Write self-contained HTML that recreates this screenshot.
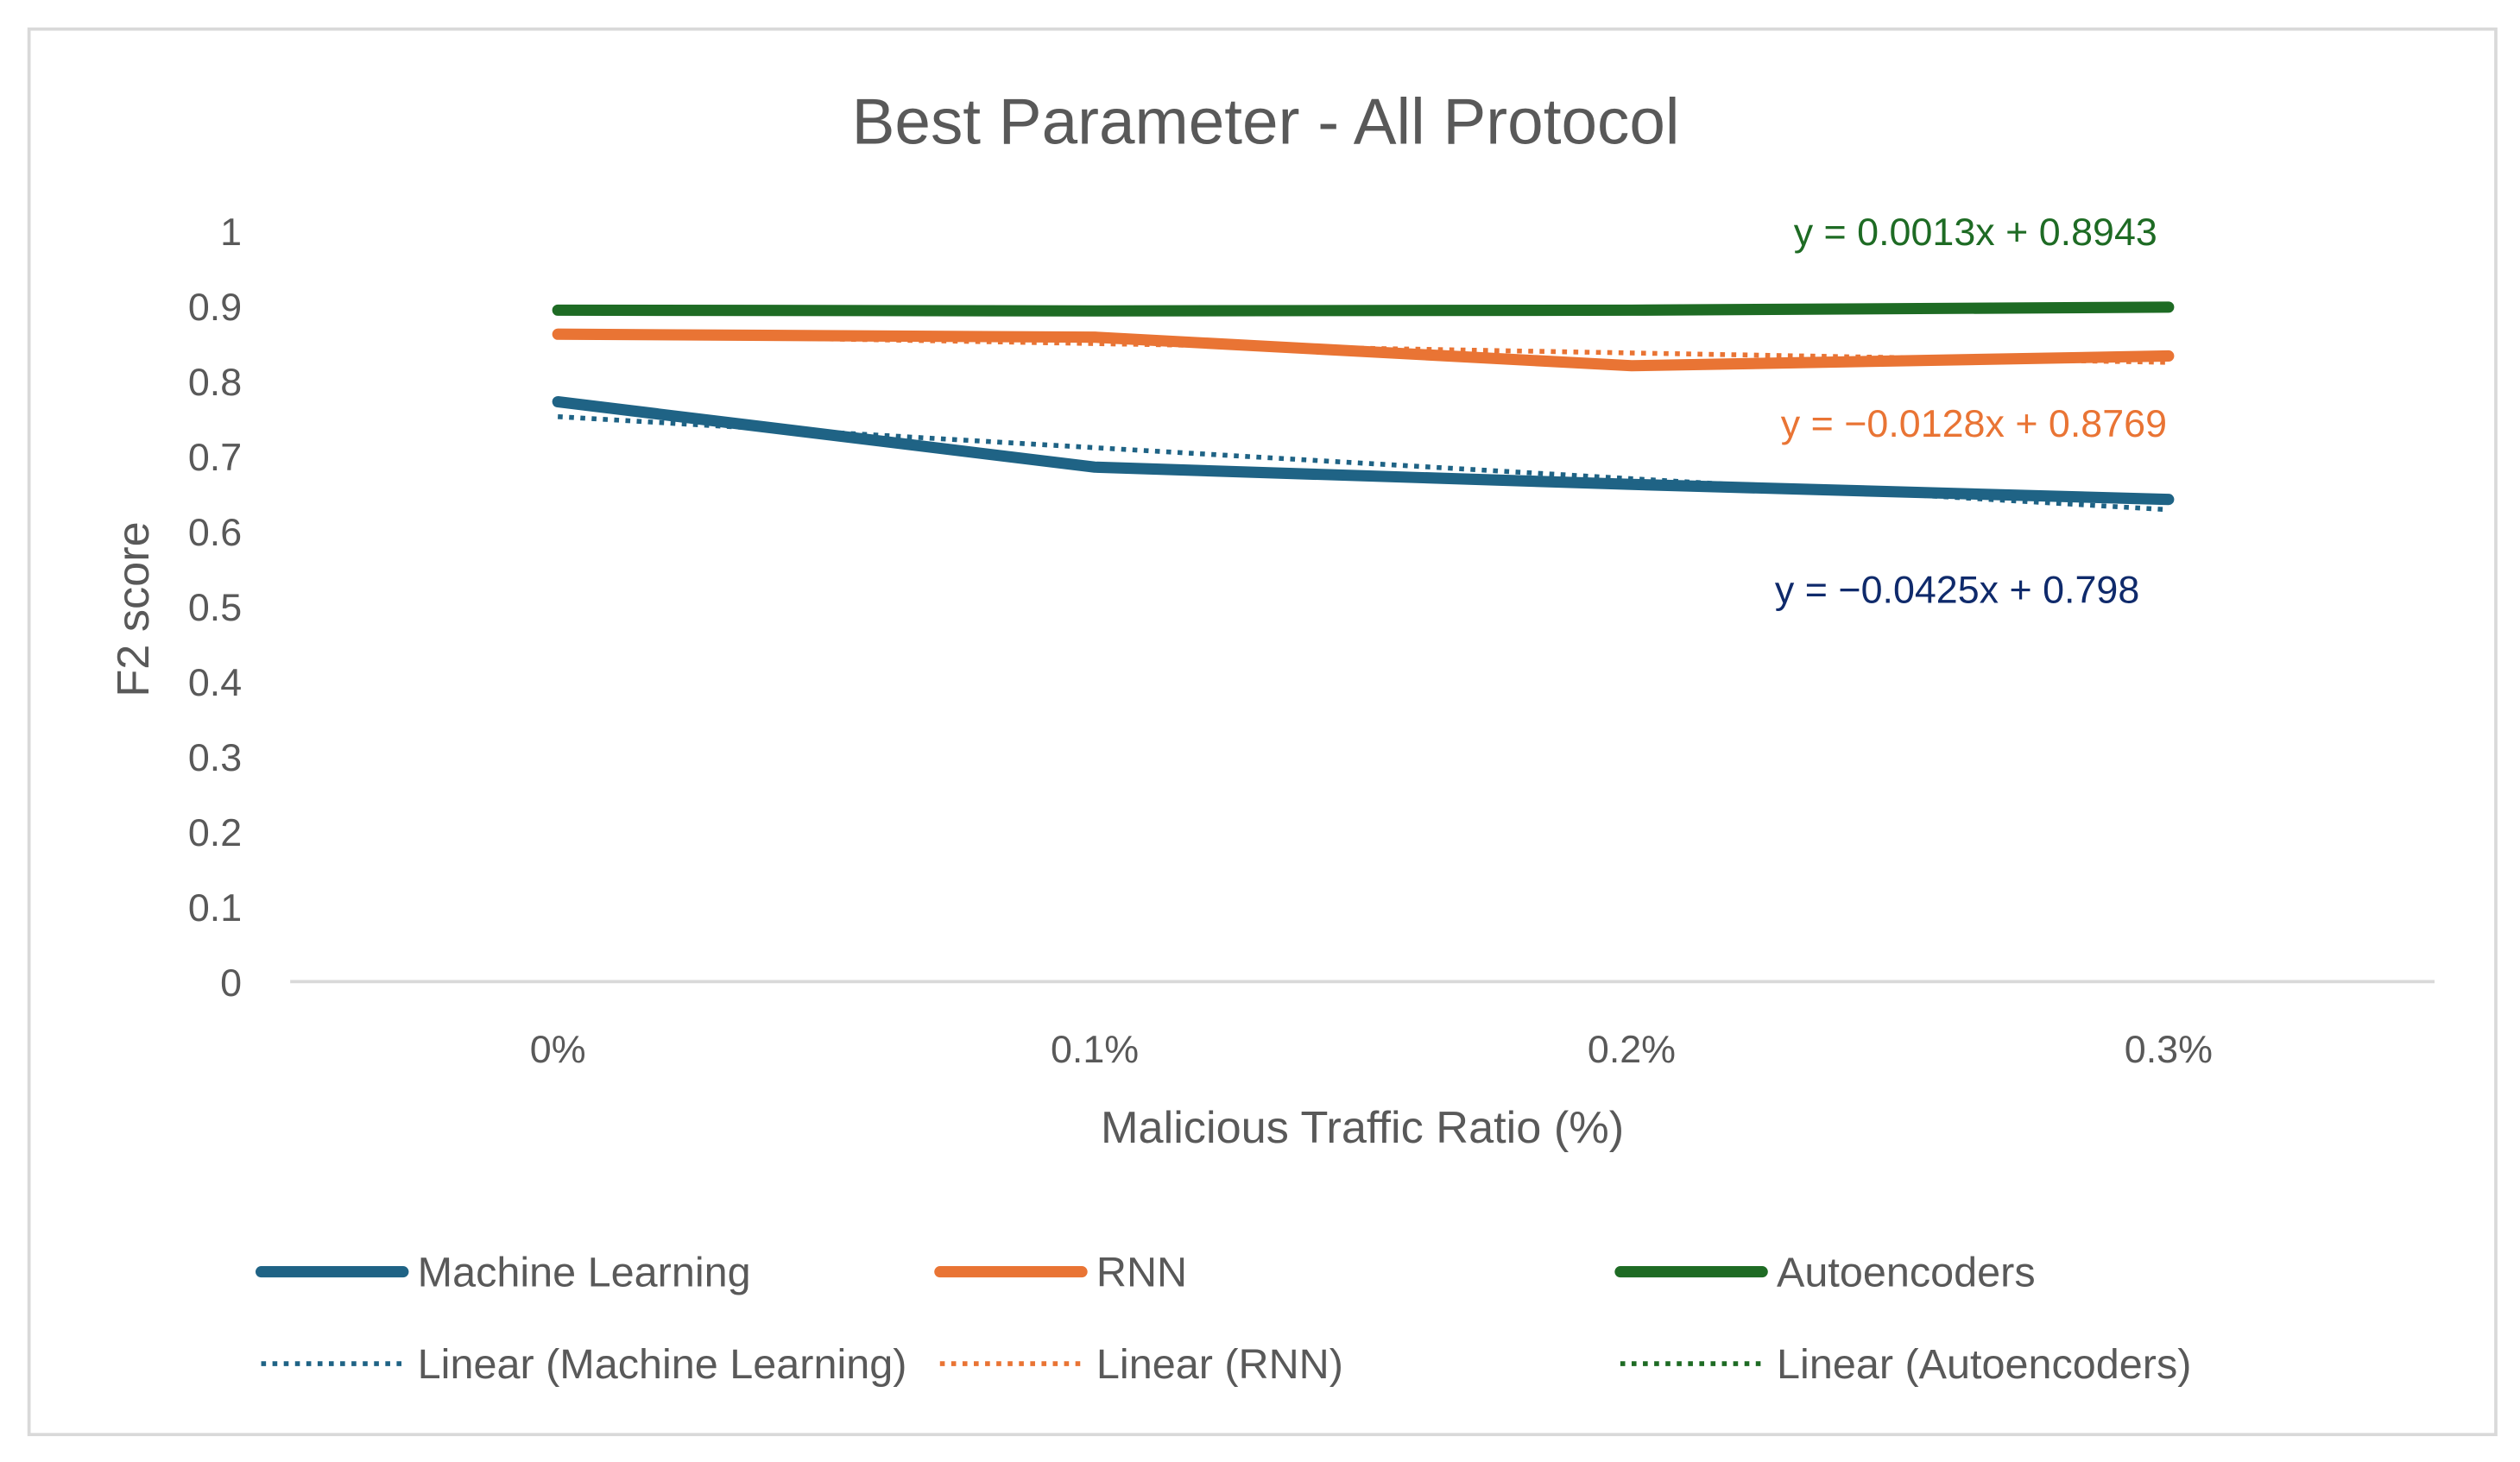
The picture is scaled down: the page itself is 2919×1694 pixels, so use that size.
<!DOCTYPE html>
<html><head><meta charset="utf-8"><style>
html,body{margin:0;padding:0;background:#fff;}
svg{display:block;font-family:"Liberation Sans",sans-serif;}
</style></head><body>
<svg id="chart" width="2919" height="1694" viewBox="0 0 1563 907">
<rect x="18" y="18" width="1530" height="872" fill="#fff" stroke="#d9d9d9" stroke-width="2"/>
<text x="785" y="89" text-anchor="middle" font-size="40" fill="#595959">Best Parameter - All Protocol</text>
<g id="yaxis"></g>
<g id="xaxis"></g>
<line x1="180" y1="609" x2="1510" y2="609" stroke="#d9d9d9" stroke-width="2"/>
<text transform="translate(92,378) rotate(-90)" text-anchor="middle" font-size="28" fill="#595959">F2 score</text>
<text x="845" y="709" text-anchor="middle" font-size="28" fill="#595959">Malicious Traffic Ratio (%)</text>
<g id="series"></g>
<text x="1338" y="152" text-anchor="end" font-size="24" fill="#1e6b24">y = 0.0013x + 0.8943</text>
<text x="1344" y="271" text-anchor="end" font-size="24" fill="#e97434">y = −0.0128x + 0.8769</text>
<text x="1327" y="374" text-anchor="end" font-size="24" fill="#0f2a6b">y = −0.0425x + 0.798</text>
<g id="legend"></g>
</svg>
<script>
const categories = ["0%", "0.1%", "0.2%", "0.3%"];
const mlValues = [0.772, 0.685, 0.662, 0.642];
const rnnValues = [0.862, 0.858, 0.820, 0.833];
const aeValues = [0.894, 0.893, 0.894, 0.898];
const yTicks = [0, 0.1, 0.2, 0.3, 0.4, 0.5, 0.6, 0.7, 0.8, 0.9, 1];
const seriesNames = ["Machine Learning", "RNN", "Autoencoders"];

const NS = "http://www.w3.org/2000/svg";
function yS(v){ return 609 - v * 466; }
function xS(i){ return 346 + i * 333; }
function mk(tag, attrs, parent){ const e=document.createElementNS(NS,tag); for(const k in attrs) e.setAttribute(k,attrs[k]); parent.appendChild(e); return e; }

const yaxis=document.getElementById('yaxis');
yTicks.forEach(t=>{
  const e=mk('text',{x:150,y:yS(t)+9,'text-anchor':'end','font-size':24,fill:'#595959'},yaxis);
  e.textContent=String(t);
  
  
});
const xaxis=document.getElementById('xaxis');
categories.forEach((c,i)=>{
  const e=mk('text',{x:xS(i),y:659,'text-anchor':'middle','font-size':24,fill:'#595959'},xaxis);
  e.textContent=c;
  
  
});

const colors=["#1f6385","#e97434","#1e6b24"];
const data=[mlValues,rnnValues,aeValues];
const sg=document.getElementById('series');
function fit(vals){
  const n=vals.length; let sx=0,sy=0,sxy=0,sxx=0;
  vals.forEach((v,i)=>{const x=i+1;sx+=x;sy+=v;sxy+=x*v;sxx+=x*x;});
  const m=(n*sxy-sx*sy)/(n*sxx-sx*sx); const b=(sy-m*sx)/n; return [m,b];
}
data.forEach((vals,s)=>{
  const [m,b]=fit(vals);
  const tl=mk('line',{x1:xS(0),y1:yS(m*1+b),x2:xS(vals.length-1),y2:yS(m*vals.length+b),stroke:colors[s],'stroke-width':3,'stroke-dasharray':'3 4'},sg);
  
  
});
data.forEach((vals,s)=>{
  const p=mk('polyline',{points:vals.map((v,i)=>xS(i)+','+yS(v)).join(' '),fill:'none',stroke:colors[s],'stroke-width':7,'stroke-linecap':'round','stroke-linejoin':'round'},sg);
  
  
});

const lg=document.getElementById('legend');
const cols=[162,583,1005];
seriesNames.forEach((n,s)=>{
  const l1=mk('line',{x1:cols[s],y1:789,x2:cols[s]+88,y2:789,stroke:colors[s],'stroke-width':7,'stroke-linecap':'round'},lg);
  
  
  const t1=mk('text',{x:cols[s]+97,y:798,'font-size':26,fill:'#595959'},lg);
  t1.textContent=n;
  
  
  const l2=mk('line',{x1:cols[s],y1:846,x2:cols[s]+88,y2:846,stroke:colors[s],'stroke-width':3,'stroke-dasharray':'3 4'},lg);
  
  
  const t2=mk('text',{x:cols[s]+97,y:855,'font-size':26,fill:'#595959'},lg);
  t2.textContent='Linear ('+n+')';
  
  
});
</script>
</body></html>
